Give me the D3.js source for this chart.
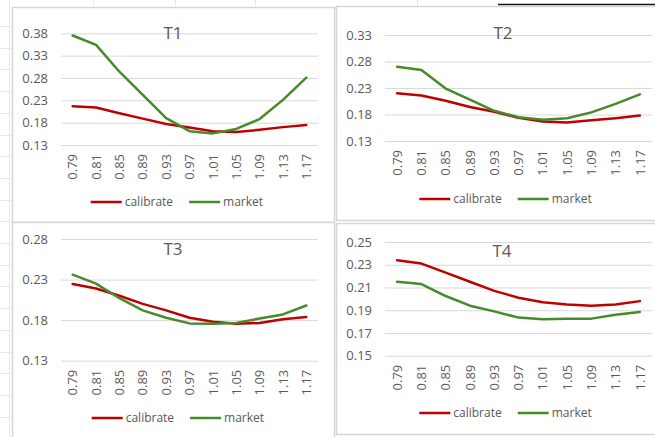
<!DOCTYPE html>
<html>
<head>
<meta charset="utf-8">
<script src="https://cdn.jsdelivr.net/npm/d3@7"></script>
<style>
  html, body { margin: 0; padding: 0; background: #fff; overflow: hidden; }
  svg { display: block; font-family: "Open Sans", "DejaVu Sans", sans-serif; }
</style>
</head>
<body>
<svg id="chart" width="655" height="437"></svg>
<script>
// Moneyness buckets shared by all four maturities
const moneyness = ["0.79", "0.81", "0.85", "0.89", "0.93", "0.97", "1.01", "1.05", "1.09", "1.13", "1.17"];
const seriesNames = ["calibrate", "market"];
const panelTitles = ["T1", "T2", "T3", "T4"];

// Implied volatility per maturity
const t1Calibrate = [0.217, 0.214, 0.201, 0.189, 0.177, 0.169, 0.161, 0.159, 0.164, 0.170, 0.175];
const t1Market    = [0.375, 0.354, 0.294, 0.242, 0.190, 0.161, 0.156, 0.166, 0.188, 0.231, 0.281];
const t2Calibrate = [0.220, 0.216, 0.206, 0.194, 0.185, 0.174, 0.167, 0.165, 0.169, 0.173, 0.178];
const t2Market    = [0.270, 0.264, 0.229, 0.208, 0.187, 0.175, 0.170, 0.173, 0.184, 0.200, 0.218];
const t3Calibrate = [0.2245, 0.219, 0.210, 0.200, 0.192, 0.183, 0.178, 0.1756, 0.1765, 0.181, 0.184];
const t3Market    = [0.236, 0.225, 0.207, 0.192, 0.183, 0.176, 0.1756, 0.1766, 0.182, 0.187, 0.198];
const t4Calibrate = [0.234, 0.231, 0.223, 0.215, 0.207, 0.201, 0.197, 0.195, 0.194, 0.195, 0.198];
const t4Market    = [0.215, 0.213, 0.2025, 0.194, 0.189, 0.1835, 0.182, 0.1826, 0.1826, 0.186, 0.1885];

// Value-axis ticks per maturity
const t1Ticks = [0.13, 0.18, 0.23, 0.28, 0.33, 0.38];
const t2Ticks = [0.13, 0.18, 0.23, 0.28, 0.33];
const t3Ticks = [0.13, 0.18, 0.23, 0.28];
const t4Ticks = [0.15, 0.17, 0.19, 0.21, 0.23, 0.25];

const seriesColors = { calibrate: "#C00000", market: "#468A2A" };
const textColor = "#595959";
const gridColor = "#D9D9D9";

// Frame and plot geometry for the 2x2 grid of charts
const layout = [
  { box: [12, 7, 322, 215],  xr: [61, 318],  yr: [145, 33.3], title: [173, 33], legend: [90.7, 202] },
  { box: [336, 6, 330, 214], xr: [385, 652], yr: [141, 35],   title: [503, 33], legend: [419.3, 199] },
  { box: [12, 222, 322, 240], xr: [61, 318], yr: [360.7, 239], title: [173, 249.5], legend: [91.7, 418] },
  { box: [336, 223, 330, 211], xr: [385, 652], yr: [355.7, 242], title: [502, 251], legend: [419.3, 413] }
];

const panels = [
  { ticks: t1Ticks, values: { calibrate: t1Calibrate, market: t1Market } },
  { ticks: t2Ticks, values: { calibrate: t2Calibrate, market: t2Market } },
  { ticks: t3Ticks, values: { calibrate: t3Calibrate, market: t3Market } },
  { ticks: t4Ticks, values: { calibrate: t4Calibrate, market: t4Market } }
];

const svg = d3.select("#chart");

// Worksheet cell lines behind the charts
const sheet = svg.append("g").attr("stroke", "#E8E8E8").attr("stroke-width", 1);
[93, 175, 255, 417].forEach(x => sheet.append("line").attr("x1", x + 0.5).attr("x2", x + 0.5).attr("y1", 0).attr("y2", 6));
sheet.append("line").attr("x1", 9.5).attr("x2", 9.5).attr("y1", 0).attr("y2", 437);
d3.range(26, 437, 21.7).forEach(y => sheet.append("line").attr("x1", 0).attr("x2", 12).attr("y1", Math.round(y) + 0.5).attr("y2", Math.round(y) + 0.5));

// Selected-cell edge along the top right
svg.append("line").attr("x1", 498).attr("x2", 655).attr("y1", 4.5).attr("y2", 4.5)
  .attr("stroke", "#111").attr("stroke-width", 1.5);

panels.forEach((p, i) => {
  const L = layout[i];
  const g = svg.append("g");

  g.append("rect")
    .attr("x", L.box[0] + 0.5).attr("y", L.box[1] + 0.5)
    .attr("width", L.box[2]).attr("height", L.box[3])
    .attr("fill", "#fff").attr("stroke", "#D6D6D6").attr("stroke-width", 1.5);

  const x = d3.scaleBand().domain(moneyness).range(L.xr).paddingInner(0).paddingOuter(0);
  const y = d3.scaleLinear().domain([p.ticks[0], p.ticks[p.ticks.length - 1]]).range(L.yr);
  const plotW = L.xr[1] - L.xr[0];

  // Gridlines with value labels
  const yAxis = g.append("g")
    .attr("transform", `translate(${L.xr[0]},0)`)
    .call(d3.axisLeft(y).tickValues(p.ticks).tickFormat(d3.format(".2f"))
      .tickSizeInner(-plotW).tickSizeOuter(0).tickPadding(13));
  yAxis.select(".domain").remove();
  yAxis.selectAll(".tick line").attr("stroke", gridColor).attr("stroke-width", 1);
  yAxis.selectAll(".tick text").attr("fill", textColor).style("font-size", "13px")
    .style("font-family", "'Open Sans', sans-serif");

  // Rotated category labels
  const xAxis = g.append("g")
    .attr("transform", `translate(0,${L.yr[0]})`)
    .call(d3.axisBottom(x).tickSize(0));
  xAxis.select(".domain").remove();
  xAxis.selectAll(".tick text")
    .attr("transform", "rotate(-90)")
    .attr("x", -9).attr("y", 0).attr("dy", "0.36em")
    .attr("text-anchor", "end")
    .attr("fill", textColor).style("font-size", "13px")
    .style("font-family", "'Open Sans', sans-serif");

  // Series lines
  const line = d3.line()
    .x((d, j) => x(moneyness[j]) + x.bandwidth() / 2)
    .y(d => y(d));
  seriesNames.forEach(name => {
    g.append("path")
      .datum(p.values[name])
      .attr("d", line)
      .attr("fill", "none")
      .attr("stroke", seriesColors[name])
      .attr("stroke-width", 2.5)
      .attr("stroke-linejoin", "round")
      .attr("stroke-linecap", "round");
  });

  // Title
  g.append("text")
    .attr("x", L.title[0]).attr("y", L.title[1]).attr("dy", "0.35em")
    .attr("text-anchor", "middle")
    .attr("fill", textColor).style("font-size", "17px")
    .text(panelTitles[i]);

  // Legend
  let lx = L.legend[0];
  seriesNames.forEach(name => {
    g.append("line")
      .attr("x1", lx).attr("x2", lx + 31)
      .attr("y1", L.legend[1]).attr("y2", L.legend[1])
      .attr("stroke", seriesColors[name]).attr("stroke-width", 2.5);
    const t = g.append("text")
      .attr("x", lx + 34).attr("y", L.legend[1]).attr("dy", "0.35em")
      .attr("fill", textColor).style("font-size", "12px")
      .text(name);
    lx = lx + 34 + t.node().getComputedTextLength() + 16;
  });
});
</script>
</body>
</html>
